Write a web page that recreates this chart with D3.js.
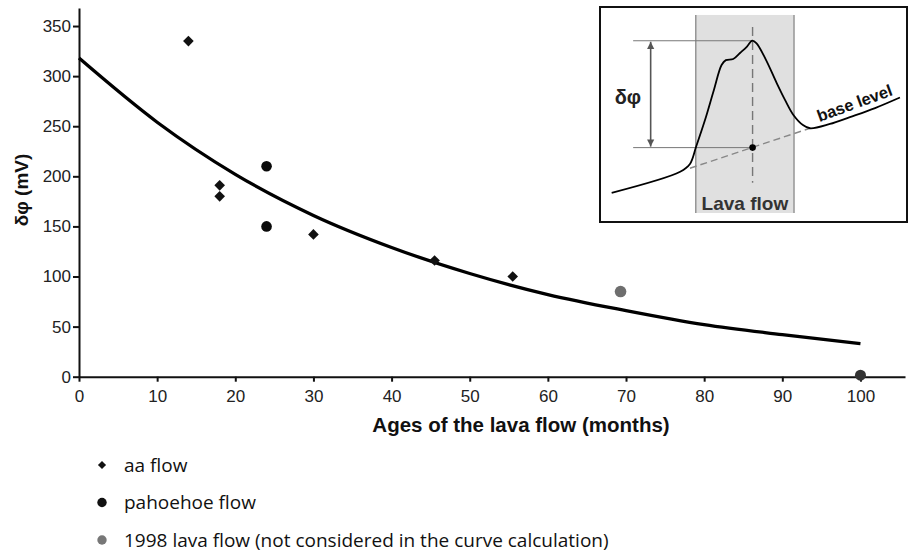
<!DOCTYPE html>
<html>
<head>
<meta charset="utf-8">
<script src="https://cdn.jsdelivr.net/npm/d3@7/dist/d3.min.js"></script>
<style>
  body { margin: 0; background: #fff; }
  svg  { display: block; }
  .axis text { font-family: "Liberation Sans", Arial, sans-serif; font-size: 17px; fill: #222; }
  .axis path, .axis line { stroke: #111; stroke-width: 2; }
</style>
</head>
<body>
<svg id="chart" width="908" height="553"></svg>
<script>
// main chart data (months, mV)
const aaMonths       = [14, 18, 18, 30, 45.5, 55.5]
const aaValues       = [335, 191, 180, 142, 116, 100]
const pahoehoeMonths = [24, 24, 100]
const pahoehoeValues = [210, 150, 1.5]
const flow1998Months = [69.3]
const flow1998Values = [85]
const curveMonths    = [0, 10, 20, 30, 40, 50, 60, 70, 80, 90, 100]
const curveValues    = [318, 254, 202, 161, 129, 103, 82, 66, 52, 42, 33]
const xTicks         = [0, 10, 20, 30, 40, 50, 60, 70, 80, 90, 100]
const yTicks         = [0, 50, 100, 150, 200, 250, 300, 350]
const legendLabels   = ['aa flow', 'pahoehoe flow', '1998 lava flow (not considered in the curve calculation)']

// inset sketch data (arbitrary units 0..100)
const insetCurveX = [3.8, 26.1, 29.3, 31.3, 34.2, 37.1, 39.6, 41.0, 43.4, 45.6, 47.8, 49.6, 51.0, 54.1, 57.6, 60.3, 63.0, 66.1, 68.4, 74.9, 81.4, 89.6, 97.7]
const insetCurveY = [13.6, 23.4, 27.0, 35.0, 47.4, 61.4, 73.0, 75.3, 75.8, 78.6, 81.5, 84.4, 83.1, 75.3, 64.5, 56.7, 49.8, 45.1, 43.6, 45.6, 48.8, 53.0, 57.9]
const insetFlowX  = [31.2, 63.2]
const insetFlowY  = [4.2, 96.3]
const insetBaseX  = [29.3, 68.4]
const insetBaseY  = [25.0, 43.6]
const insetPeak   = [49.7, 84.3]
const insetFoot   = [49.7, 34.6]
const insetGuideX = [10.8, 49.7]
const insetArrowX = 16.5
const insetCenterY = [18.3, 90.7]

const svg = d3.select('#chart')

const x = d3.scaleLinear().domain([0, 105.7]).range([79, 905])
const y = d3.scaleLinear().domain([0, 368]).range([376.7, 8])

svg.append('g')
    .attr('class', 'axis')
    .attr('transform', `translate(0, ${y(0)})`)
    .call(d3.axisBottom(x).tickValues(xTicks).tickSize(5).tickPadding(8).tickSizeOuter(0))

svg.append('g')
    .attr('class', 'axis')
    .attr('transform', `translate(${x(0)}, 0)`)
    .call(d3.axisLeft(y).tickValues(yTicks).tickSize(6).tickPadding(2).tickSizeOuter(0))

svg.append('text')
    .attr('x', 521).attr('y', 432)
    .attr('text-anchor', 'middle')
    .style('font-family', '"Liberation Sans", Arial, sans-serif')
    .style('font-size', '20.5px').style('font-weight', 'bold').style('fill', '#111')
    .text('Ages of the lava flow (months)')

svg.append('text')
    .attr('transform', 'translate(28, 190) rotate(-90)')
    .attr('text-anchor', 'middle')
    .style('font-family', '"Liberation Sans", Arial, sans-serif')
    .style('font-size', '19px').style('font-weight', 'bold').style('fill', '#111')
    .text('δφ (mV)')

// fitted curve
const line = d3.line()
    .x((d, i) => x(curveMonths[i]))
    .y(d => y(d))
    .curve(d3.curveMonotoneX)

svg.append('path')
    .datum(curveValues)
    .attr('d', line)
    .attr('fill', 'none')
    .attr('stroke', '#000')
    .attr('stroke-width', 3.3)

const diamond = d3.symbol().type(d3.symbolDiamond2)

svg.selectAll('.aa').data(aaValues).enter().append('path')
    .attr('class', 'aa')
    .attr('d', diamond.size(72)())
    .attr('transform', (d, i) => `translate(${x(aaMonths[i])}, ${y(d)})`)
    .attr('fill', '#111')

svg.selectAll('.pahoehoe').data(pahoehoeValues).enter().append('circle')
    .attr('class', 'pahoehoe')
    .attr('cx', (d, i) => x(pahoehoeMonths[i]))
    .attr('cy', d => y(d))
    .attr('r', (d, i) => pahoehoeMonths[i] === 100 ? 5.5 : 5.3)
    .attr('fill', (d, i) => pahoehoeMonths[i] === 100 ? '#333' : '#0a0a0a')

svg.selectAll('.flow1998').data(flow1998Values).enter().append('circle')
    .attr('class', 'flow1998')
    .attr('cx', (d, i) => x(flow1998Months[i]))
    .attr('cy', d => y(d))
    .attr('r', 5.8)
    .attr('fill', '#6e6e6e')

// legend
const legend = svg.append('g').attr('transform', 'translate(102, 465)')
const items = legend.selectAll('g').data(legendLabels).enter().append('g')
    .attr('transform', (d, i) => `translate(0, ${i * 37.5})`)

items.filter((d, i) => i === 0).append('path')
    .attr('d', diamond.size(42)())
    .attr('fill', '#111')
items.filter((d, i) => i > 0).append('circle')
    .attr('r', 4.7)
    .attr('fill', (d, i) => i === 0 ? '#111' : '#777')

items.append('text')
    .attr('x', 22).attr('dy', 6.5)
    .style('font-family', '"Open Sans", "Noto Sans", sans-serif')
    .style('font-size', '19px').style('fill', '#111')
    .text(d => d)

// inset
const ix = d3.scaleLinear().domain([0, 100]).range([600, 907])
const iy = d3.scaleLinear().domain([0, 100]).range([222, 7])
const inset = svg.append('g')

inset.append('rect')
    .attr('x', ix(0)).attr('y', iy(100))
    .attr('width', ix(100) - ix(0)).attr('height', iy(0) - iy(100))
    .attr('fill', '#fff').attr('stroke', '#111').attr('stroke-width', 2)

inset.append('rect')
    .attr('x', ix(insetFlowX[0])).attr('y', iy(insetFlowY[1]))
    .attr('width', ix(insetFlowX[1]) - ix(insetFlowX[0]))
    .attr('height', iy(insetFlowY[0]) - iy(insetFlowY[1]))
    .attr('fill', '#e0e0e0')

inset.selectAll('.edge').data(insetFlowX).enter().append('line')
    .attr('class', 'edge')
    .attr('x1', d => ix(d)).attr('x2', d => ix(d))
    .attr('y1', iy(insetFlowY[0])).attr('y2', iy(insetFlowY[1]))
    .attr('stroke', '#888').attr('stroke-width', 1.3)

inset.selectAll('.guide').data([insetPeak[1], insetFoot[1]]).enter().append('line')
    .attr('class', 'guide')
    .attr('x1', ix(insetGuideX[0])).attr('x2', ix(insetGuideX[1]))
    .attr('y1', d => iy(d)).attr('y2', d => iy(d))
    .attr('stroke', '#777').attr('stroke-width', 1)

svg.append('defs').append('marker')
    .attr('id', 'head').attr('viewBox', '0 0 10 10')
    .attr('refX', 10).attr('refY', 5)
    .attr('markerWidth', 4.5).attr('markerHeight', 5)
    .attr('orient', 'auto-start-reverse')
  .append('path').attr('d', 'M0,0L10,5L0,10z').attr('fill', '#555')

inset.append('line')
    .attr('x1', ix(insetArrowX)).attr('x2', ix(insetArrowX))
    .attr('y1', iy(insetPeak[1]) + 1).attr('y2', iy(insetFoot[1]) - 1)
    .attr('stroke', '#555').attr('stroke-width', 1.6)
    .attr('marker-start', 'url(#head)').attr('marker-end', 'url(#head)')

inset.append('line')
    .attr('x1', ix(insetPeak[0])).attr('x2', ix(insetPeak[0]))
    .attr('y1', iy(insetCenterY[1])).attr('y2', iy(insetCenterY[0]))
    .attr('stroke', '#777').attr('stroke-width', 1.4).attr('stroke-dasharray', '9,5')

inset.append('line')
    .attr('x1', ix(insetBaseX[0])).attr('x2', ix(insetBaseX[1]))
    .attr('y1', iy(insetBaseY[0])).attr('y2', iy(insetBaseY[1]))
    .attr('stroke', '#888').attr('stroke-width', 1.4).attr('stroke-dasharray', '7,4')

const insetLine = d3.line()
    .x((d, i) => ix(insetCurveX[i]))
    .y(d => iy(d))
    .curve(d3.curveCatmullRom)

inset.append('path')
    .datum(insetCurveY)
    .attr('d', insetLine)
    .attr('fill', 'none').attr('stroke', '#000').attr('stroke-width', 1.8)

inset.append('circle')
    .attr('cx', ix(insetFoot[0])).attr('cy', iy(insetFoot[1]))
    .attr('r', 3.3).attr('fill', '#000')

inset.append('text')
    .attr('x', ix(9.1)).attr('y', iy(58.3)).attr('dy', 7)
    .attr('text-anchor', 'middle')
    .style('font-family', '"Liberation Sans", Arial, sans-serif')
    .style('font-size', '20px').style('font-weight', 'bold').style('fill', '#222')
    .text('δφ')

inset.append('text')
    .attr('x', ix(47.2)).attr('y', iy(5.4))
    .attr('text-anchor', 'middle')
    .style('font-family', '"Liberation Sans", Arial, sans-serif')
    .style('font-size', '19px').style('font-weight', 'bold').style('fill', '#333')
    .text('Lava flow')

inset.append('text')
    .attr('transform', `translate(${ix(71.5)}, ${iy(46.5)}) rotate(-20)`)
    .style('font-family', '"Liberation Sans", Arial, sans-serif')
    .style('font-size', '16.5px').style('font-weight', 'bold').style('fill', '#111')
    .text('base level')
</script>
</body>
</html>
